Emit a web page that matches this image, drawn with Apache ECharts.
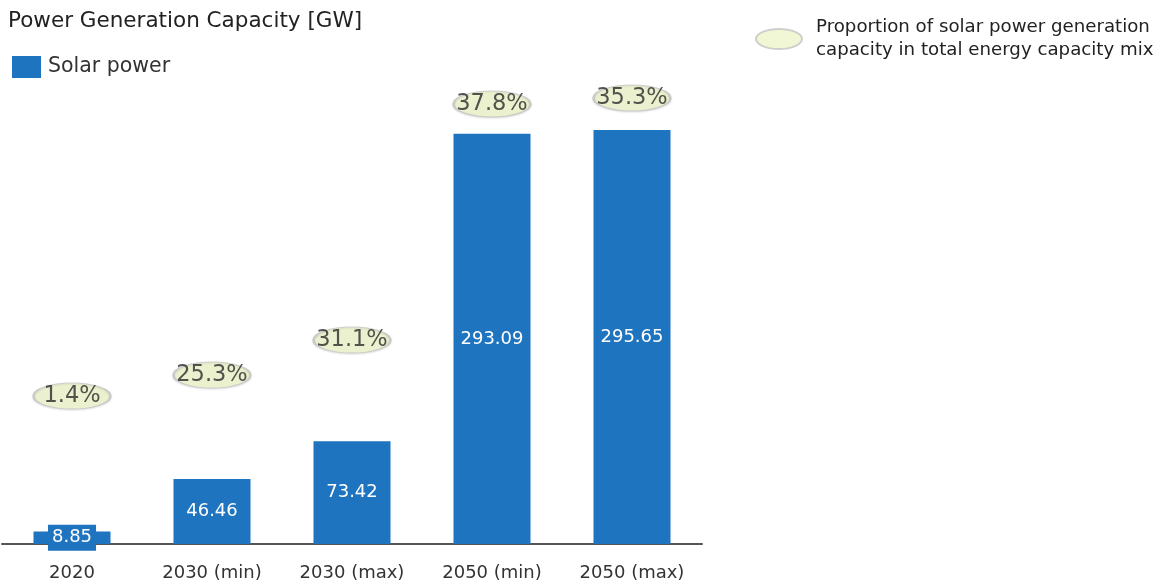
<!DOCTYPE html>
<html>
<head>
<meta charset="utf-8">
<script src="https://cdn.jsdelivr.net/npm/echarts@6/dist/echarts.min.js"></script>
<style>html,body{margin:0;padding:0;background:#fff}#c{width:1158px;height:585px}</style>
</head>
<body>
<div id="c"></div>
<script>
const categories = ['2020', '2030 (min)', '2030 (max)', '2050 (min)', '2050 (max)'];
const solarGW = [8.85, 46.46, 73.42, 293.09, 295.65];
const solarShare = [1.4, 25.3, 31.1, 37.8, 35.3];
// vertical anchor of each share bubble, in GW units of the chart's axis
const shareAnchorGW = [105.7, 120.7, 145.7, 314.3, 318.6];

const FONT = 'DejaVu Sans';
const chart = echarts.init(document.getElementById('c'), null, {renderer: 'canvas'});
chart.setOption({
  animation: false,
  textStyle: {fontFamily: FONT},
  title: {
    text: 'Power Generation Capacity [GW]',
    left: 3, top: 5,
    textStyle: {fontFamily: FONT, fontSize: 21.5, fontWeight: 'normal', color: '#222'}
  },
  legend: [{
    data: ['Solar power'],
    left: 7, top: 51,
    icon: 'rect', itemWidth: 29, itemHeight: 22, itemGap: 8,
    textStyle: {fontFamily: FONT, fontSize: 20.5, color: '#333', padding: [0, 0, 0, 2]}
  }, {
    data: ['share'],
    left: 750, top: 11,
    icon: 'path://M0,10 A23,10 0 1,1 46,10 A23,10 0 1,1 0,10 Z',
    itemWidth: 46, itemHeight: 20, itemGap: 12,
    formatter: () => 'Proportion of solar power generation\ncapacity in total energy capacity mix',
    textStyle: {fontFamily: FONT, fontSize: 18.2, color: '#222', lineHeight: 23, padding: [0, 0, 0, 9]}
  }],
  grid: {left: 2, right: 456, top: 124, bottom: 41},
  xAxis: {
    type: 'category', data: categories,
    axisLine: {lineStyle: {color: '#555', width: 2}},
    axisTick: {show: false},
    axisLabel: {fontFamily: FONT, fontSize: 18, color: '#333', margin: 20}
  },
  yAxis: {
    type: 'value', min: 0, max: 300, show: false,
    splitLine: {show: false}
  },
  series: [{
    name: 'Solar power', type: 'bar', data: solarGW, barWidth: 77,
    itemStyle: {color: '#1f74c0'},
    label: {
      show: true, position: 'inside', color: '#fff', fontFamily: FONT, fontSize: 18,
      backgroundColor: '#1f74c0', padding: [5, 4, 3, 4]
    },
    z: 3
  }, {
    name: 'share', type: 'scatter', clip: false,
    data: shareAnchorGW.map((v, i) => [i, v]),
    symbol: 'circle', symbolSize: [77, 26],
    itemStyle: {
      color: '#eef5c9', borderColor: '#c4c4c4', borderWidth: 1.5,
      shadowColor: 'rgba(0,0,0,0.15)', shadowBlur: 2, shadowOffsetY: 1
    },
    label: {
      show: true, position: 'inside', color: '#2a2a2a', fontFamily: FONT, fontSize: 22.5,
      formatter: p => solarShare[p.dataIndex].toFixed(1) + '%'
    },
    z: 4
  }]
});
</script>
</body>
</html>
